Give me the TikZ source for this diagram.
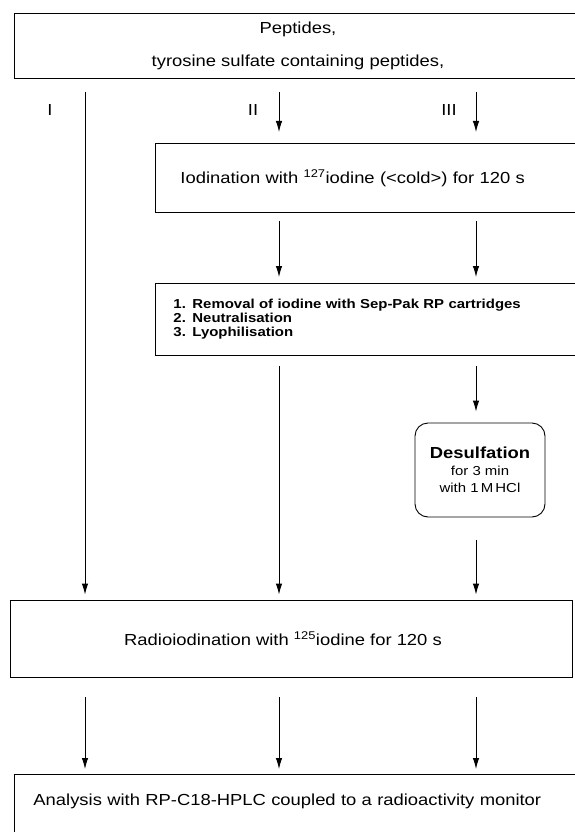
\documentclass[tikz,border=0pt]{standalone}
\usepackage{fontspec}
\setmainfont{Liberation Sans}[FakeStretch=1.15]
\usetikzlibrary{arrows.meta}

\tikzset{
  flowbox/.style={draw, line width=0.9pt, inner sep=0pt},
  roundbox/.style={flowbox, rounded corners=13pt},
  flow/.style={->, line width=0.9pt}
}

\begin{document}
\begin{tikzpicture}[x=1pt, y=-1pt, >={Latex[length=11pt,width=6.5pt]}, font=\fontsize{16}{19}\selectfont]
    \useasboundingbox (0,0) rectangle (575,832);
    \clip (0,0) rectangle (575,832);

    % the three routes
    \coordinate (colI) at (85,0);
    \coordinate (colII) at (279,0);
    \coordinate (colIII) at (476,0);

    \node[flowbox, minimum width=568pt, minimum height=65pt, align=center, font=\fontsize{16}{33}\selectfont] (src) at (298,45.5) {Peptides,\\tyrosine sulfate containing peptides,};
    \node (lbI) at (50,110) {I};
    \node (lbII) at (253,110) {II};
    \node (lbIII) at (449,110) {III};

    \node[flowbox, anchor=north west, minimum width=445pt, minimum height=69pt, text width=395pt, inner xsep=25pt, align=left] (iod) at (155,143) {Iodination with \textsuperscript{127}iodine (<cold>) for 120 s};
    \node[flowbox, anchor=north west, minimum width=445pt, minimum height=72pt, text width=409pt, inner xsep=18pt, align=left, font=\bfseries\fontsize{13}{14}\selectfont] (rem) at (155,283) {1. Removal of iodine with Sep-Pak RP cartridges\\2. Neutralisation\\3. Lyophilisation};
    \node[roundbox, minimum width=130pt, minimum height=94pt, align=center, font=\fontsize{13}{17}\selectfont] (desulf) at (480,470) {{\bfseries\fontsize{16}{17}\selectfont Desulfation}\\for 3 min\\with 1\,M\,HCl};
    \node[flowbox, minimum width=562pt, minimum height=77pt] (radio) at (291,638.5) {\hspace*{-16pt}Radioiodination with \textsuperscript{125}iodine for 120 s};
    \node[flowbox, anchor=north west, minimum width=600pt, text width=562pt, inner xsep=19pt, align=left, text height=31pt, text depth=70pt] (ana) at (14,774) {Analysis with RP-C18-HPLC coupled to a radioactivity monitor};

    % route I
    \draw[flow, shorten <=14pt, shorten >=5pt] (src.south -| colI) -- (radio.north -| colI);
    % route II
    \draw[flow, shorten <=14pt, shorten >=11pt] (src.south -| colII) -- (iod.north -| colII);
    \draw[flow, shorten <=8pt, shorten >=6pt] (iod.south -| colII) -- (rem.north -| colII);
    \draw[flow, shorten <=10pt, shorten >=5pt] (rem.south -| colII) -- (radio.north -| colII);
    % route III
    \draw[flow, shorten <=14pt, shorten >=11pt] (src.south -| colIII) -- (iod.north -| colIII);
    \draw[flow, shorten <=8pt, shorten >=6pt] (iod.south -| colIII) -- (rem.north -| colIII);
    \draw[flow, shorten <=10pt, shorten >=11pt] (rem.south -| colIII) -- (desulf.north -| colIII);
    \draw[flow, shorten <=23pt, shorten >=5pt] (desulf.south -| colIII) -- (radio.north -| colIII);
    % to the analysis
    \draw[flow, shorten <=20pt, shorten >=5pt] (radio.south -| colI) -- (ana.north -| colI);
    \draw[flow, shorten <=20pt, shorten >=5pt] (radio.south -| colII) -- (ana.north -| colII);
    \draw[flow, shorten <=20pt, shorten >=5pt] (radio.south -| colIII) -- (ana.north -| colIII);
\end{tikzpicture}
\end{document}
